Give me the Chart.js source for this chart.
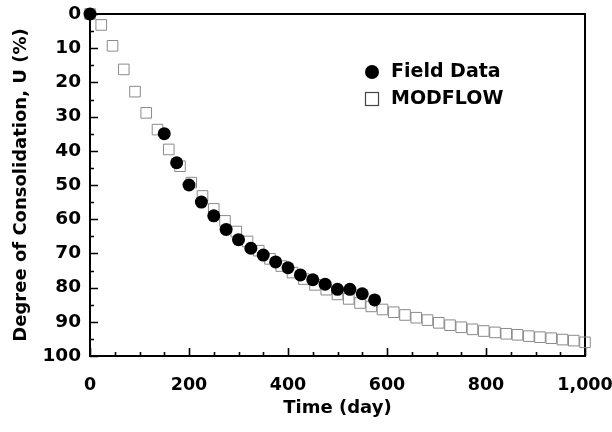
<!DOCTYPE html>
<html><head><meta charset="utf-8">
<script src="https://cdn.jsdelivr.net/npm/chart.js@4.4.1/dist/chart.umd.min.js"></script>
<style>html,body{margin:0;padding:0;background:#fff}#c{display:block}</style>
</head><body>
<canvas id="c" width="612" height="432"></canvas>
<script>
// ---- data ----
const fieldTime = [0,150,175,200,225,250,275,300,325,350,375,400,425,450,475,500,525,550,575];
const fieldU    = [0,35,43.5,50,55,59,63,66,68.5,70.5,72.5,74.2,76.3,77.7,79,80.5,80.5,81.8,83.6];

const modelTime = [0,22.7,45.5,68.2,90.9,113.6,136.4,159.1,181.8,204.5,227.3,250,272.7,295.5,318.2,340.9,
  363.6,386.4,409.1,431.8,454.5,477.3,500,522.7,545.5,568.2,590.9,613.6,636.4,659.1,681.8,704.5,727.3,750,
  772.7,795.5,818.2,840.9,863.6,886.4,909.1,931.8,954.5,977.3,1000];
const modelU = [0,3.2,9.3,16.2,22.7,28.9,33.8,39.6,44.5,49.3,53.2,57.0,60.5,63.6,66.5,69.2,
  71.6,73.7,75.6,77.5,79.2,80.6,82.0,83.3,84.5,85.5,86.4,87.2,88.0,88.8,89.5,90.3,91.0,91.6,
  92.2,92.7,93.1,93.5,93.8,94.2,94.5,94.8,95.2,95.5,96.0];

const xTicks = [0,200,400,600,800,1000];
const yTicks = [0,10,20,30,40,50,60,70,80,90,100];
const xMinorStep = 50;
const yMinorStep = 5;
const seriesNames = ['Field Data','MODFLOW'];
const xTitle = 'Time (day)';
const yTitle = 'Degree of Consolidation, U (%)';

const FONT = "'DejaVu Sans', sans-serif";

const frameTicks = {
  id: 'frameTicks',
  beforeDatasetsDraw(chart) {
    const {ctx, chartArea: a, scales: {x, y}} = chart;
    ctx.save();
    ctx.strokeStyle = '#000';
    ctx.lineWidth = 2;
    ctx.strokeRect(a.left, a.top, a.right - a.left, a.bottom - a.top);
    ctx.lineWidth = 1.6;
    ctx.beginPath();
    const xmin = xTicks[0], xmax = xTicks[xTicks.length - 1];
    for (let v = xmin; v <= xmax; v += xMinorStep) {
      const px = Math.round(x.getPixelForValue(v)) + 0.5;
      const len = xTicks.includes(v) ? 8 : 4;
      ctx.moveTo(px, a.bottom); ctx.lineTo(px, a.bottom - len);
    }
    const ymin = yTicks[0], ymax = yTicks[yTicks.length - 1];
    for (let v = ymin; v <= ymax; v += yMinorStep) {
      const py = Math.round(y.getPixelForValue(v)) + 0.5;
      const len = yTicks.includes(v) ? 8 : 4;
      ctx.moveTo(a.left, py); ctx.lineTo(a.left + len, py);
    }
    ctx.stroke();
    ctx.restore();
  }
};

const legendPlugin = {
  id: 'innerLegend',
  afterDraw(chart) {
    const {ctx} = chart;
    ctx.save();
    const lx = 372, ly1 = 72, ly2 = 99;
    ctx.fillStyle = '#000';
    ctx.beginPath(); ctx.arc(lx, ly1, 7, 0, Math.PI * 2); ctx.fill();
    ctx.strokeStyle = '#444'; ctx.lineWidth = 1.2;
    ctx.strokeRect(lx - 6.5, ly2 - 6.5, 13, 13);
    ctx.font = "bold 19px " + FONT;
    ctx.textBaseline = 'middle';
    ctx.textAlign = 'left';
    ctx.fillText(chart.data.datasets[0].label, 391, ly1);
    ctx.fillText(chart.data.datasets[1].label, 391, ly2);
    ctx.restore();
  }
};

new Chart(document.getElementById('c'), {
  type: 'scatter',
  data: {
    datasets: [
      {
        label: seriesNames[0],
        data: fieldTime.map((t, i) => ({x: t, y: fieldU[i]})),
        pointStyle: 'circle',
        pointRadius: 6.5,
        backgroundColor: '#000',
        borderColor: '#000',
        borderWidth: 0,
        clip: false
      },
      {
        label: seriesNames[1],
        data: modelTime.map((t, i) => ({x: t, y: modelU[i]})),
        pointStyle: 'rect',
        pointRadius: 7.5,
        backgroundColor: 'rgba(0,0,0,0)',
        borderColor: '#8a8a8a',
        borderWidth: 1,
        clip: false
      }
    ]
  },
  options: {
    responsive: false,
    animation: false,
    devicePixelRatio: 1,
    layout: {padding: {left: 0, top: 14, right: 27, bottom: 0}},
    plugins: {legend: {display: false}, tooltip: {enabled: false}},
    scales: {
      x: {
        type: 'linear', min: xTicks[0], max: xTicks[xTicks.length - 1],
        afterBuildTicks: s => { s.ticks = xTicks.map(v => ({value: v})); },
        ticks: {color: '#000', font: {family: FONT, size: 17.5, weight: 'bold'}, padding: 19, maxRotation: 0,
          callback: v => v.toLocaleString('en-US')},
        grid: {display: false, drawTicks: false},
        border: {display: false},
        title: {display: true, text: xTitle, color: '#000', font: {family: FONT, size: 18, weight: 'bold'}, padding: {top: 0, bottom: 13}},
        afterFit: s => { s.height = 76; s.paddingLeft = 0; s.paddingRight = 0; }
      },
      y: {
        type: 'linear', min: yTicks[0], max: yTicks[yTicks.length - 1], reverse: true,
        afterBuildTicks: s => { s.ticks = yTicks.map(v => ({value: v})); },
        ticks: {color: '#000', font: {family: FONT, size: 18.5, weight: 'bold'}, padding: 9},
        grid: {display: false, drawTicks: false},
        border: {display: false},
        title: {display: true, text: yTitle, color: '#000', font: {family: FONT, size: 18, weight: 'bold'}, padding: {top: 11, bottom: 0}},
        afterFit: s => { s.width = 90; s.paddingTop = 0; s.paddingBottom = 0; }
      }
    }
  },
  plugins: [frameTicks, legendPlugin]
});
</script>
</body></html>
